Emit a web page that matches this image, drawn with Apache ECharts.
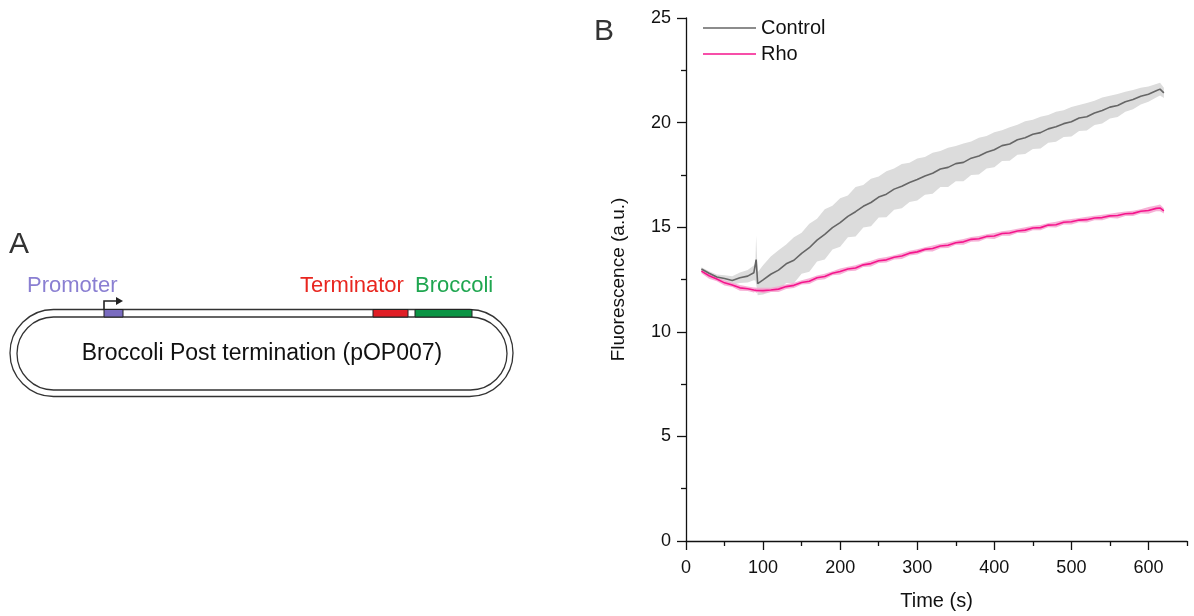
<!DOCTYPE html>
<html lang="en">
<head>
    <meta charset="UTF-8">
    <title>Broccoli post termination - fluorescence</title>
    <script src="https://cdn.jsdelivr.net/npm/echarts@6/dist/echarts.min.js"></script>
    <style>
        body { margin: 0; background: #ffffff; }
        #chart { width: 1194px; height: 616px; }
    </style>
</head>
<body>
    <div id="chart"></div>
    <script>
        // time points (s)
        let time = [20, 30, 40, 50, 60, 70, 80, 88, 90, 91, 93,
            100, 110, 120, 130, 140, 150, 160, 170, 180, 190,
            200, 210, 220, 230, 240, 250, 260, 270, 280, 290,
            300, 310, 320, 330, 340, 350, 360, 370, 380, 390,
            400, 410, 420, 430, 440, 450, 460, 470, 480, 490,
            500, 510, 520, 530, 540, 550, 560, 570, 580, 590,
            600, 610, 615, 620];

        // Control: mean and spread
        let controlMean = [13.0, 12.8, 12.62, 12.55, 12.45, 12.58, 12.66, 12.82, 12.85, 13.45, 12.3,
            12.48, 12.75, 12.95, 13.25, 13.42, 13.75, 14.02, 14.38, 14.66, 14.98,
            15.22, 15.52, 15.74, 16.0, 16.18, 16.44, 16.58, 16.82, 16.96, 17.14,
            17.28, 17.45, 17.58, 17.78, 17.86, 18.04, 18.1, 18.3, 18.4, 18.58,
            18.7, 18.9, 18.98, 19.18, 19.28, 19.44, 19.52, 19.7, 19.8, 19.95,
            20.04, 20.22, 20.28, 20.46, 20.58, 20.74, 20.82, 21.0, 21.1, 21.26,
            21.36, 21.52, 21.6, 21.42];
        let controlSd = [0.08, 0.1, 0.12, 0.15, 0.2, 0.25, 0.3, 0.35, 0.4, 1.15, 0.55,
            0.7, 0.85, 0.95, 0.92, 1.1, 0.98, 1.15, 1.02, 1.2, 1.04,
            1.16, 1.0, 1.18, 1.02, 1.14, 0.98, 1.1, 0.98, 1.06, 0.94,
            1.0, 0.9, 0.98, 0.86, 0.94, 0.84, 0.9, 0.8, 0.88, 0.78,
            0.84, 0.74, 0.8, 0.72, 0.78, 0.7, 0.76, 0.66, 0.72, 0.64,
            0.7, 0.62, 0.66, 0.58, 0.62, 0.54, 0.55, 0.48, 0.46, 0.4,
            0.36, 0.32, 0.3, 0.25];

        // Rho: mean and spread
        let rhoMean = [12.9, 12.68, 12.52, 12.34, 12.24, 12.1, 12.06, 12.0, 12.02, 11.98, 12.0,
            11.97, 12.0, 12.04, 12.16, 12.22, 12.36, 12.42, 12.58, 12.64, 12.8,
            12.88, 13.0, 13.05, 13.2, 13.26, 13.4, 13.44, 13.56, 13.62, 13.76,
            13.82, 13.94, 13.98, 14.1, 14.14, 14.26, 14.3, 14.42, 14.45, 14.56,
            14.58, 14.7, 14.72, 14.82, 14.86, 14.96, 14.98, 15.1, 15.12, 15.24,
            15.26, 15.34, 15.36, 15.44, 15.46, 15.54, 15.56, 15.64, 15.66, 15.76,
            15.8, 15.9, 15.92, 15.78];
        let rhoSd = [0.1, 0.14, 0.1, 0.13, 0.1, 0.14, 0.11, 0.12, 0.1, 0.12, 0.1,
            0.13, 0.1, 0.14, 0.11, 0.13, 0.1, 0.14, 0.11, 0.13, 0.1,
            0.14, 0.11, 0.13, 0.1, 0.14, 0.11, 0.13, 0.1, 0.14, 0.11,
            0.13, 0.1, 0.14, 0.11, 0.13, 0.1, 0.14, 0.11, 0.13, 0.1,
            0.14, 0.11, 0.13, 0.1, 0.14, 0.11, 0.13, 0.1, 0.14, 0.11,
            0.13, 0.1, 0.14, 0.11, 0.13, 0.1, 0.14, 0.11, 0.13, 0.1,
            0.16, 0.14, 0.16, 0.12];

        let xMajorTicks = [0, 100, 200, 300, 400, 500, 600];
        let xMinorTicks = [50, 150, 250, 350, 450, 550, 650];

        const FONT = '"Liberation Sans", Arial, sans-serif';

        function pairs(vals) {
            return time.map((t, i) => [t, vals[i]]);
        }

        // shaded mean ± sd band, drawn as one polygon through the axes
        function bandSeries(mean, sd, color, opacity) {
            return {
                type: 'custom',
                silent: true,
                clip: true,
                data: [[time[0], mean[0]]],
                renderItem: function (params, api) {
                    let upper = time.map((t, i) => api.coord([t, mean[i] + sd[i]]));
                    let lower = time.map((t, i) => api.coord([t, mean[i] - sd[i]])).reverse();
                    return {
                        type: 'polygon',
                        shape: { points: upper.concat(lower) },
                        style: { fill: color, opacity: opacity }
                    };
                }
            };
        }

        // panel A: plasmid map drawn with graphic elements
        let plasmid = [
            { type: 'text', left: 9, top: 230, style: { text: 'A', font: '30px ' + FONT, fill: '#333333' } },
            { type: 'text', left: 27, top: 275, style: { text: 'Promoter', font: '22px ' + FONT, fill: '#8a7fd2' } },
            { type: 'text', left: 300, top: 275, style: { text: 'Terminator', font: '22px ' + FONT, fill: '#e8261f' } },
            { type: 'text', left: 415, top: 275, style: { text: 'Broccoli', font: '22px ' + FONT, fill: '#1fa650' } },
            { type: 'rect', shape: { x: 10, y: 309.5, width: 503, height: 87, r: 43.5 },
              style: { fill: 'none', stroke: '#333333', lineWidth: 1.3 } },
            { type: 'rect', shape: { x: 17, y: 317, width: 490, height: 73, r: 36.5 },
              style: { fill: 'none', stroke: '#333333', lineWidth: 1.3 } },
            { type: 'rect', shape: { x: 104, y: 309.5, width: 19, height: 7.5 },
              style: { fill: '#7a6cc0', stroke: '#222222', lineWidth: 1 } },
            { type: 'rect', shape: { x: 373, y: 309.5, width: 35, height: 7.5 },
              style: { fill: '#e01f26', stroke: '#222222', lineWidth: 1 } },
            { type: 'rect', shape: { x: 415, y: 309.5, width: 57, height: 7.5 },
              style: { fill: '#0b9444', stroke: '#222222', lineWidth: 1 } },
            { type: 'polyline', shape: { points: [[104, 310], [104, 301], [117, 301]] },
              style: { fill: 'none', stroke: '#222222', lineWidth: 1.6 } },
            { type: 'polygon', shape: { points: [[116, 297], [123, 301], [116, 305]] },
              style: { fill: '#222222' } },
            { type: 'text', x: 262, y: 354,
              style: { text: 'Broccoli Post termination (pOP007)', font: '23px ' + FONT, fill: '#111111',
                       align: 'center', verticalAlign: 'middle' } },
            { type: 'text', left: 594, top: 17, style: { text: 'B', font: '30px ' + FONT, fill: '#333333' } }
        ];

        let lineBase = { type: 'line', symbol: 'none', showSymbol: false, silent: true };

        let option = {
            animation: false,
            backgroundColor: '#ffffff',
            textStyle: { fontFamily: FONT },
            graphic: plasmid,
            grid: { left: 686, right: 7, top: 18, bottom: 71, containLabel: false },
            legend: {
                data: ['Control', 'Rho'],
                orient: 'vertical',
                left: 703,
                top: 18,
                padding: 0,
                icon: 'rect',
                itemWidth: 53,
                itemHeight: 1.6,
                itemGap: 6,
                textStyle: { fontSize: 20, color: '#111111', lineHeight: 20, fontFamily: FONT }
            },
            xAxis: [
                {
                    type: 'value', min: 0, max: 650, position: 'bottom',
                    axisLine: { show: true, lineStyle: { color: '#111111', width: 1.3 } },
                    axisTick: { show: true, inside: false, length: 5, customValues: xMinorTicks,
                                lineStyle: { color: '#111111', width: 1.3 } },
                    axisLabel: { show: false },
                    splitLine: { show: false }
                },
                {
                    type: 'value', min: 0, max: 650, position: 'bottom',
                    name: 'Time (s)', nameLocation: 'middle', nameGap: 50,
                    nameTextStyle: { fontSize: 20, color: '#111111' },
                    axisLine: { show: false },
                    axisTick: { show: true, inside: false, length: 9, customValues: xMajorTicks,
                                lineStyle: { color: '#111111', width: 1.3 } },
                    axisLabel: { customValues: xMajorTicks, margin: 18, fontSize: 18, color: '#111111' },
                    splitLine: { show: false }
                }
            ],
            yAxis: {
                type: 'value', min: 0, max: 25, interval: 5,
                name: 'Fluorescence (a.u.)', nameLocation: 'middle', nameGap: 58,
                nameTextStyle: { fontSize: 19, color: '#111111' },
                axisLine: { show: true, lineStyle: { color: '#111111', width: 1.3 } },
                axisTick: { show: true, inside: false, length: 9, lineStyle: { color: '#111111', width: 1.3 } },
                minorTick: { show: true, splitNumber: 2, length: 5, lineStyle: { color: '#111111', width: 1.3 } },
                axisLabel: { margin: 15, fontSize: 18, color: '#111111' },
                splitLine: { show: false }
            },
            series: [
                bandSeries(controlMean, controlSd, '#dcdcdc', 1),
                bandSeries(rhoMean, rhoSd, '#f5a3cf', 0.85),
                Object.assign({}, lineBase, { name: 'Control', data: pairs(controlMean),
                    itemStyle: { color: '#666666' }, lineStyle: { color: '#666666', width: 1.6 } }),
                Object.assign({}, lineBase, { name: 'Rho', data: pairs(rhoMean),
                    itemStyle: { color: '#f5148c' }, lineStyle: { color: '#f5148c', width: 1.6 } })
            ]
        };

        let chart = echarts.init(document.getElementById('chart'));
        chart.setOption(option);

        window.addEventListener('resize', function () {
            chart.resize();
        });
    </script>
</body>
</html>
